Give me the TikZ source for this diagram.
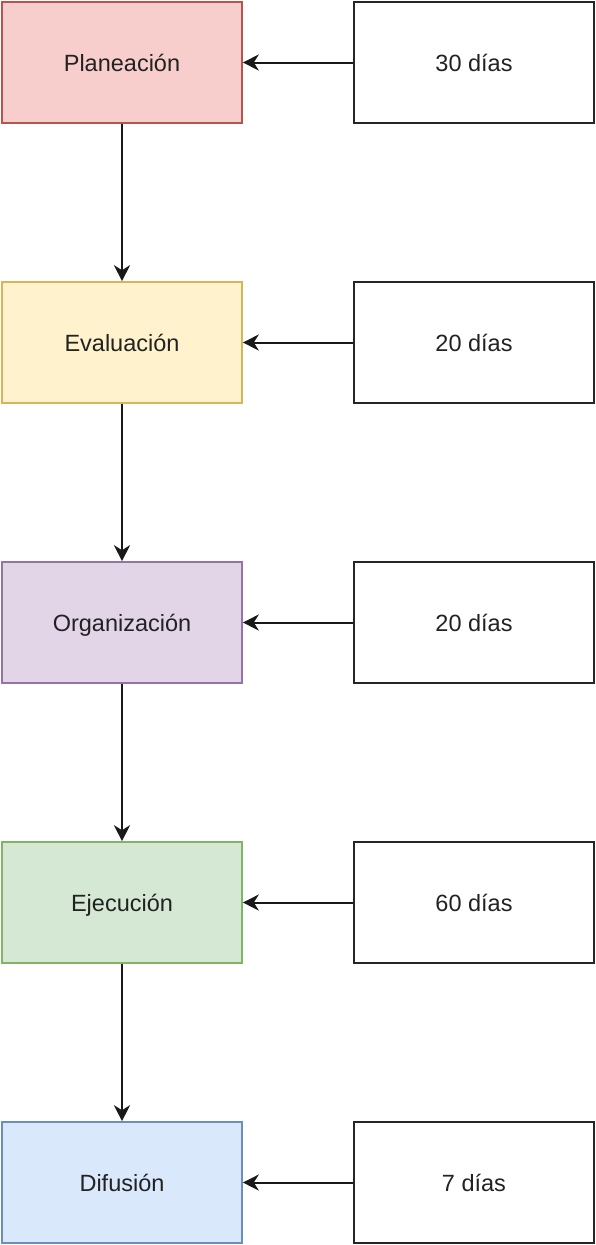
\documentclass[tikz,border=0pt]{standalone}
\usepackage{fontspec}
\setmainfont{Liberation Sans}
\usetikzlibrary{arrows.meta}
\definecolor{redf}{HTML}{F8CECC}\definecolor{redd}{HTML}{B85450}
\definecolor{yelf}{HTML}{FFF2CC}\definecolor{yeld}{HTML}{D6B656}
\definecolor{purf}{HTML}{E1D5E7}\definecolor{purd}{HTML}{9673A6}
\definecolor{grnf}{HTML}{D5E8D4}\definecolor{grnd}{HTML}{82B366}
\definecolor{bluf}{HTML}{DAE8FC}\definecolor{blud}{HTML}{6C8EBF}
\definecolor{txt}{HTML}{222222}
\tikzset{
  box/.style={rectangle, minimum width=240pt, minimum height=121pt, inner sep=0pt, line width=1.6pt,
    font=\fontsize{23.5}{28}\selectfont, text=txt, text height=17pt, text depth=0pt},
  stagebox/.style={box, draw=#1d, fill=#1f},
  timebox/.style={box, draw=black!85, fill=white},
  conn/.style={line width=2pt, draw=black!90, -{Stealth[length=16pt,width=16pt,inset=5pt]}}
}
\begin{document}
\begin{tikzpicture}[x=1pt,y=-1pt]
\useasboundingbox (0,0) rectangle (596,1245);
\foreach \i/\name/\col/\t in {0/Planeación/red/30 días,1/Evaluación/yel/20 días,2/Organización/pur/20 días,3/Ejecución/grn/60 días,4/Difusión/blu/7 días}{
  \node[stagebox=\col] (s\i) at (122,62.5+280*\i) {\name};
  \node[timebox] (t\i) at (474,62.5+280*\i) {\t};
  \draw[conn] (t\i.west) -- (s\i.east);
}
\foreach \i [evaluate=\i as \j using int(\i+1)] in {0,1,2,3}{
  \draw[conn] (s\i.south) -- (s\j.north);
}
\end{tikzpicture}
\end{document}
